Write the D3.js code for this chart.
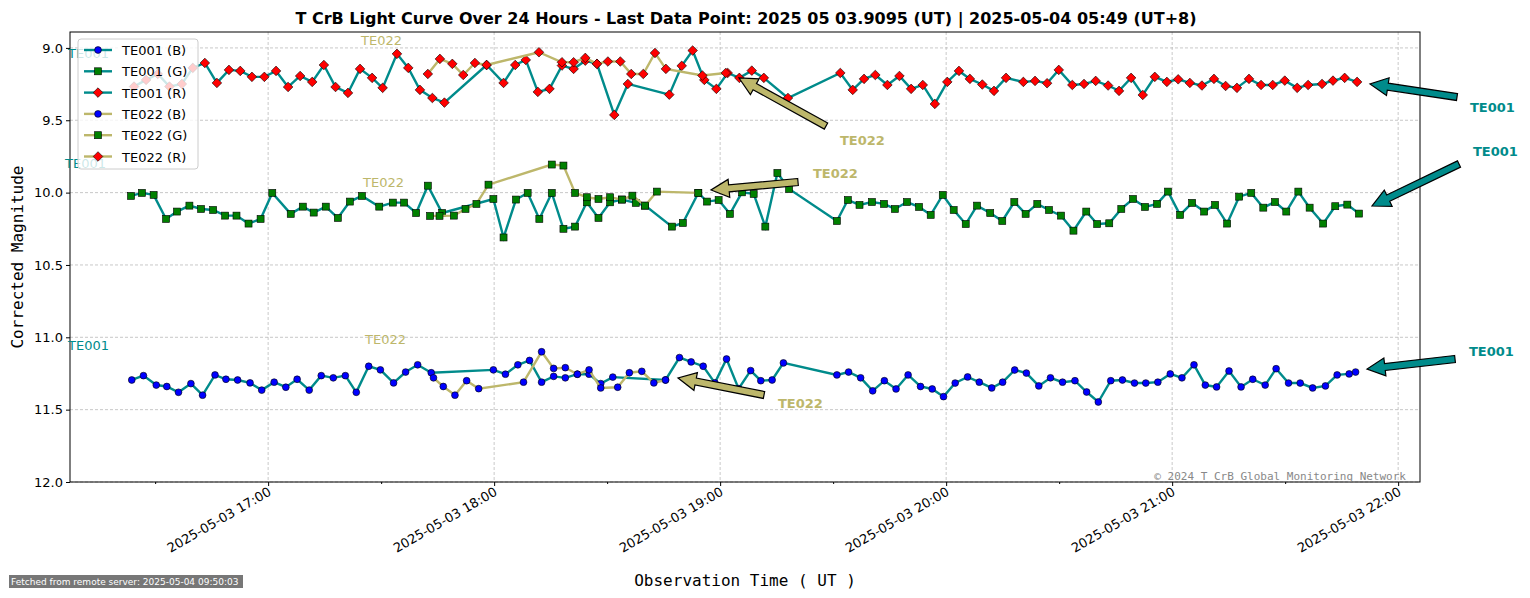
<!DOCTYPE html>
<html lang="en">
<head>
<meta charset="UTF-8">
<title>T CrB Light Curve</title>
<script src="https://d3js.org/d3.v7.min.js"></script>
<style>
  body { margin: 0; background: #fff; }
  text { font-family: "DejaVu Sans", sans-serif; }
</style>
</head>
<body>
<svg id="chart" width="1530" height="598"></svg>
<script>
// times are minutes after 2025-05-03 16:00 UT, values are corrected magnitudes
const te001B = [[23.8,11.295],[26.9,11.265],[30.3,11.33],[33.1,11.34],[36.2,11.38],[39.5,11.32],[42.6,11.40],[45.9,11.26],[48.8,11.29],[51.9,11.295],
  [55.2,11.315],[58.3,11.365],[61.6,11.31],[64.7,11.345],[67.7,11.29],[70.9,11.365],[74.1,11.265],[77.3,11.28],[80.5,11.265],[83.4,11.38],
  [86.7,11.20],[89.8,11.225],[93.3,11.315],[96.5,11.24],[99.7,11.19],[103.3,11.245],[119.8,11.225],[123.0,11.255],[126.3,11.19],[129.4,11.16],
  [132.6,11.31],[135.8,11.27],[138.9,11.28],[142.1,11.255],[145.2,11.255],[148.3,11.32],[151.5,11.275],[165.5,11.295],[169.2,11.14],[172.3,11.17],
  [175.5,11.20],[178.6,11.315],[181.7,11.15],[184.9,11.355],[188.1,11.23],[190.8,11.30],[193.8,11.295],[196.8,11.177],[211.0,11.26],[214.1,11.24],
  [217.3,11.28],[220.5,11.37],[223.6,11.30],[226.7,11.357],[229.9,11.26],[233.2,11.34],[236.3,11.357],[239.3,11.41],[242.4,11.316],[245.7,11.274],
  [248.8,11.31],[252.1,11.35],[255.0,11.31],[258.2,11.226],[261.3,11.247],[264.6,11.336],[267.7,11.28],[270.9,11.31],[274.2,11.30],[277.3,11.378],
  [280.4,11.447],[283.7,11.30],[286.8,11.295],[290.0,11.316],[293.0,11.316],[296.2,11.31],[299.5,11.253],[302.6,11.28],[305.8,11.19],[308.8,11.33],
  [311.8,11.343],[315.1,11.233],[318.3,11.343],[321.4,11.29],[324.7,11.33],[327.6,11.217],[330.9,11.316],[334.0,11.316],[337.3,11.35],[340.7,11.336],
  [343.8,11.26],[347.0,11.253],[348.7,11.24]];

const te001G = [[23.6,10.023],[26.5,10.002],[29.6,10.016],[32.9,10.182],[35.8,10.131],[39.1,10.09],[42.2,10.113],[45.4,10.12],[48.6,10.159],[51.6,10.159],
  [54.8,10.214],[58.0,10.182],[61.1,10.002],[66.0,10.147],[69.2,10.097],[72.1,10.138],[75.3,10.097],[78.5,10.175],[81.7,10.062],[84.9,10.023],
  [89.5,10.097],[93.1,10.069],[96.1,10.069],[99.3,10.141],[102.4,9.952],[106.2,10.141],[119.8,10.044],[122.5,10.31],[125.8,10.048],[128.9,10.002],
  [132.0,10.182],[135.3,10.002],[138.4,10.25],[141.5,10.235],[144.6,10.067],[147.7,10.175],[150.8,10.067],[153.9,10.048],[157.6,10.071],[160.1,10.09],
  [167.2,10.235],[170.1,10.21],[174.2,10.002],[176.5,10.062],[179.6,10.051],[182.6,10.147],[185.8,9.998],[188.9,10.009],[192.0,10.235],[195.2,9.864],
  [198.3,9.975],[211.0,10.196],[213.9,10.051],[217.0,10.085],[220.3,10.065],[223.5,10.078],[226.4,10.113],[229.6,10.065],[232.8,10.099],[235.9,10.154],
  [239.1,10.016],[242.0,10.12],[245.2,10.217],[248.2,10.09],[251.7,10.141],[254.9,10.196],[258.1,10.065],[261.1,10.147],[264.2,10.078],[267.3,10.12],
  [270.5,10.159],[273.8,10.263],[277.2,10.131],[280.1,10.217],[283.3,10.212],[286.5,10.113],[289.6,10.044],[292.8,10.099],[296.0,10.078],[298.9,9.993],
  [302.1,10.154],[305.3,10.071],[308.5,10.131],[311.4,10.085],[314.6,10.214],[317.8,10.028],[321.0,10.002],[324.2,10.104],[327.3,10.065],[330.3,10.131],
  [333.5,9.993],[336.5,10.104],[340.1,10.214],[343.3,10.094],[346.5,10.083],[349.6,10.145]];

const te001R = [[24.4,9.267],[27.6,9.221],[30.7,9.18],[33.8,9.267],[37.1,9.249],[40.0,9.138],[43.2,9.104],[46.4,9.242],[49.6,9.152],[52.6,9.159],
  [55.7,9.20],[59.0,9.20],[62.1,9.159],[65.3,9.27],[68.5,9.194],[71.7,9.235],[74.8,9.118],[77.9,9.27],[81.2,9.311],[84.4,9.145],
  [87.6,9.207],[90.4,9.276],[94.2,9.041],[97.2,9.138],[100.3,9.29],[103.6,9.346],[106.8,9.378],[118.0,9.118],[122.5,9.242],[125.6,9.118],
  [128.4,9.083],[131.6,9.304],[134.7,9.283],[138.0,9.122],[141.1,9.145],[144.2,9.088],[147.3,9.11],[151.9,9.463],[155.5,9.249],[166.5,9.323],
  [169.8,9.124],[172.7,9.018],[175.8,9.221],[179.0,9.283],[182.0,9.173],[185.1,9.207],[188.4,9.157],[191.6,9.207],[198.0,9.346],[211.9,9.173],
  [215.2,9.29],[218.2,9.214],[221.2,9.187],[224.4,9.256],[227.6,9.194],[230.7,9.283],[233.8,9.256],[237.0,9.387],[240.3,9.235],[243.4,9.159],
  [246.3,9.214],[249.6,9.253],[252.7,9.297],[255.9,9.207],[260.5,9.235],[263.6,9.228],[266.8,9.244],[269.9,9.152],[273.5,9.256],[276.6,9.249],
  [279.7,9.228],[283.0,9.26],[285.9,9.297],[289.1,9.207],[292.2,9.325],[295.4,9.20],[298.6,9.235],[301.6,9.217],[304.7,9.242],[307.9,9.26],
  [311.1,9.214],[314.2,9.263],[317.2,9.276],[320.4,9.214],[323.6,9.256],[326.7,9.256],[329.9,9.226],[333.2,9.276],[336.1,9.256],[339.8,9.249],
  [342.7,9.226],[345.8,9.207],[349.1,9.235]];

const te022B = [[103.9,11.28],[106.5,11.34],[109.6,11.40],[112.7,11.30],[115.9,11.355],[127.8,11.31],[132.6,11.10],[135.8,11.215],[138.9,11.21],
  [142.1,11.255],[145.2,11.225],[148.3,11.35],[152.8,11.345],[155.9,11.245],[159.2,11.235],[162.4,11.315],[165.5,11.295]];

const te022G = [[103.0,10.161],[105.5,10.161],[109.3,10.159],[112.4,10.113],[115.3,10.078],[118.5,9.945],[135.3,9.806],[138.4,9.813],[141.5,10.002],
  [144.6,10.032],[147.7,10.044],[150.8,10.032],[153.9,10.048],[156.7,10.021],[160.1,10.09],[163.2,9.993],[174.2,10.002]];

const te022R = [[102.4,9.18],[105.6,9.076],[108.9,9.11],[111.8,9.187],[114.9,9.104],[118.0,9.118],[131.9,9.03],[138.0,9.099],[141.1,9.099],
  [144.2,9.069],[147.3,9.11],[150.2,9.094],[153.5,9.094],[156.4,9.18],[159.6,9.18],[162.7,9.035],[165.6,9.145],[175.3,9.191],[181.5,9.173]];

const yTicks = [9.0, 9.5, 10.0, 10.5, 11.0, 11.5, 12.0];
const xTickHours = [17, 18, 19, 20, 21, 22];

const teal = "#008B8B", khaki = "#BDB76B";
const series = [
  {name: "TE001 (B)", data: te001B, line: teal, fill: "#0000ff", shape: "circle"},
  {name: "TE001 (G)", data: te001G, line: teal, fill: "#008000", shape: "square"},
  {name: "TE001 (R)", data: te001R, line: teal, fill: "#ff0000", shape: "diamond"},
  {name: "TE022 (B)", data: te022B, line: khaki, fill: "#0000ff", shape: "circle"},
  {name: "TE022 (G)", data: te022G, line: khaki, fill: "#008000", shape: "square"},
  {name: "TE022 (R)", data: te022R, line: khaki, fill: "#ff0000", shape: "diamond"}
];

const base = Date.UTC(2025, 4, 3, 16, 0);
const toDate = m => new Date(base + m * 60000);

const svg = d3.select("#chart");
const pL = 70, pR = 1420, pT = 32, pB = 482;

const x = d3.scaleUtc().domain([toDate(7.4), toDate(365.8)]).range([pL, pR]);
const y = d3.scaleLinear().domain([8.89, 12.0]).range([pT, pB]);

// grid
const g = svg.append("g");
g.selectAll(".vg").data(xTickHours).join("line")
  .attr("x1", h => x(toDate((h - 16) * 60))).attr("x2", h => x(toDate((h - 16) * 60)))
  .attr("y1", pT).attr("y2", pB)
  .attr("stroke", "#b0b0b0").attr("stroke-width", 0.7).attr("stroke-dasharray", "3,2");
g.selectAll(".hg").data(yTicks).join("line")
  .attr("x1", pL).attr("x2", pR).attr("y1", d => y(d)).attr("y2", d => y(d))
  .attr("stroke", "#b0b0b0").attr("stroke-width", 0.7).attr("stroke-dasharray", "3,2");

// axes
const xAxis = d3.axisBottom(x)
  .tickValues(xTickHours.map(h => toDate((h - 16) * 60)))
  .tickFormat(d3.utcFormat("%Y-%m-%d %H:%M")).tickSizeOuter(0).tickSize(4);
const xa = svg.append("g").attr("transform", `translate(0,${pB})`).call(xAxis);
xa.selectAll("text").attr("font-size", 13).attr("text-anchor", "end")
  .attr("dy", "0.3em").attr("transform", "translate(-2,3) rotate(-30)");
svg.append("g").attr("transform", `translate(0,${pB})`)
  .call(d3.axisBottom(x).tickValues(d3.range(16.5, 22.5, 1).map(h => toDate((h - 16) * 60))).tickFormat("").tickSize(2).tickSizeOuter(0));

const ya = svg.append("g").attr("transform", `translate(${pL},0)`)
  .call(d3.axisLeft(y).tickValues(yTicks).tickFormat(d3.format(".1f")).tickSize(4).tickSizeOuter(0));
ya.selectAll("text").attr("font-size", 13);
svg.selectAll(".domain").remove();
svg.selectAll(".tick line").attr("stroke", "#000");
svg.selectAll(".tick text").attr("fill", "#000").style("font-family", "DejaVu Sans");

svg.append("rect").attr("x", pL).attr("y", pT).attr("width", pR - pL).attr("height", pB - pT)
  .attr("fill", "none").attr("stroke", "#000").attr("stroke-width", 1);

// markers
function marker(sel, shape, fill) {
  if (shape === "circle") sel.append("circle").attr("r", 3.4);
  else if (shape === "square") sel.append("rect").attr("x", -3.5).attr("y", -3.5).attr("width", 7).attr("height", 7);
  else sel.append("path").attr("d", "M0,-4.8L4.8,0L0,4.8L-4.8,0Z");
  sel.selectAll("*").attr("fill", fill).attr("stroke", "#000").attr("stroke-width", 0.6);
}

const line = d3.line().x(d => x(toDate(d[0]))).y(d => y(d[1]));
const plot = svg.append("g");
series.forEach(s => {
  const sg = plot.append("g");
  sg.append("path").datum(s.data).attr("d", line).attr("fill", "none")
    .attr("stroke", s.line).attr("stroke-width", 2.4);
  sg.selectAll("g").data(s.data).join("g")
    .attr("transform", d => `translate(${x(toDate(d[0]))},${y(d[1])})`)
    .each(function() { marker(d3.select(this), s.shape, s.fill); });
});

// small labels near the start of each series
[[68, 58, "TE001", teal], [65, 168, "TE001", teal], [68, 350, "TE001", teal],
 [361, 45, "TE022", khaki], [363, 187, "TE022", khaki], [365, 344, "TE022", khaki]]
  .forEach(([tx, ty, t, c]) => svg.append("text").attr("x", tx).attr("y", ty).attr("font-size", 13).attr("fill", c).text(t));

// fancy arrows
function arrow(x1, y1, x2, y2, color) {
  const dx = x2 - x1, dy = y2 - y1, len = Math.hypot(dx, dy);
  const ux = dx / len, uy = dy / len, px = -uy, py = ux;
  const hw = 3.5, hh = 9, hl = 18;
  const bx = x2 - ux * hl, by = y2 - uy * hl;
  const pts = [
    [x1 + px * hw, y1 + py * hw], [bx + px * hw, by + py * hw], [bx + px * hh, by + py * hh], [x2, y2],
    [bx - px * hh, by - py * hh], [bx - px * hw, by - py * hw], [x1 - px * hw, y1 - py * hw]];
  svg.append("path").attr("d", "M" + pts.map(p => p.join(",")).join("L") + "Z")
    .attr("fill", color).attr("stroke", "#000").attr("stroke-width", 1.2);
}
arrow(1457, 97, 1370, 84, teal);
arrow(1459, 164, 1372, 206, teal);
arrow(1455, 359, 1367, 369, teal);
arrow(826, 126, 739, 78, khaki);
arrow(798, 182, 711, 190, khaki);
arrow(764, 395, 678, 378, khaki);
[[1470, 112, "TE001", teal], [1473, 156, "TE001", teal], [1469, 356, "TE001", teal],
 [840, 145, "TE022", khaki], [813, 178, "TE022", khaki], [778, 408, "TE022", khaki]]
  .forEach(([tx, ty, t, c]) => svg.append("text").attr("x", tx).attr("y", ty).attr("font-size", 13)
    .attr("font-weight", "bold").attr("fill", c).text(t));

// legend
const lg = svg.append("g").attr("transform", "translate(78,39)");
lg.append("rect").attr("width", 120).attr("height", 130).attr("rx", 3)
  .attr("fill", "#fff").attr("fill-opacity", 0.8).attr("stroke", "#ccc");
series.forEach((s, i) => {
  const row = lg.append("g").attr("transform", `translate(0,${11 + i * 21.3})`);
  row.append("line").attr("x1", 6).attr("x2", 34).attr("stroke", s.line).attr("stroke-width", 2.4);
  marker(row.append("g").attr("transform", "translate(20,0)"), s.shape, s.fill);
  row.append("text").attr("x", 44).attr("y", 5).attr("font-size", 13).text(s.name);
});

// titles
svg.append("text").attr("x", 746).attr("y", 24).attr("text-anchor", "middle")
  .attr("font-size", 16).attr("font-weight", "bold")
  .text("T CrB Light Curve Over 24 Hours - Last Data Point: 2025 05 03.9095 (UT) | 2025-05-04 05:49 (UT+8)");
svg.append("text").attr("x", 745).attr("y", 586).attr("text-anchor", "middle")
  .attr("font-size", 16).style("font-family", "DejaVu Sans Mono").text("Observation Time ( UT )");
svg.append("text").attr("transform", "translate(23,257) rotate(-90)").attr("text-anchor", "middle")
  .attr("font-size", 16).style("font-family", "DejaVu Sans Mono").text("Corrected Magnitude");
svg.append("text").attr("x", 1406).attr("y", 480).attr("text-anchor", "end")
  .attr("font-size", 11).attr("fill", "#888").style("font-family", "DejaVu Sans Mono")
  .text("© 2024 T CrB Global Monitoring Network");
svg.append("rect").attr("x", 9).attr("y", 575).attr("width", 234).attr("height", 13).attr("fill", "#777");
svg.append("text").attr("x", 11).attr("y", 585).attr("font-size", 9).attr("fill", "#fff")
  .text("Fetched from remote server: 2025-05-04 09:50:03");
</script>
</body>
</html>
